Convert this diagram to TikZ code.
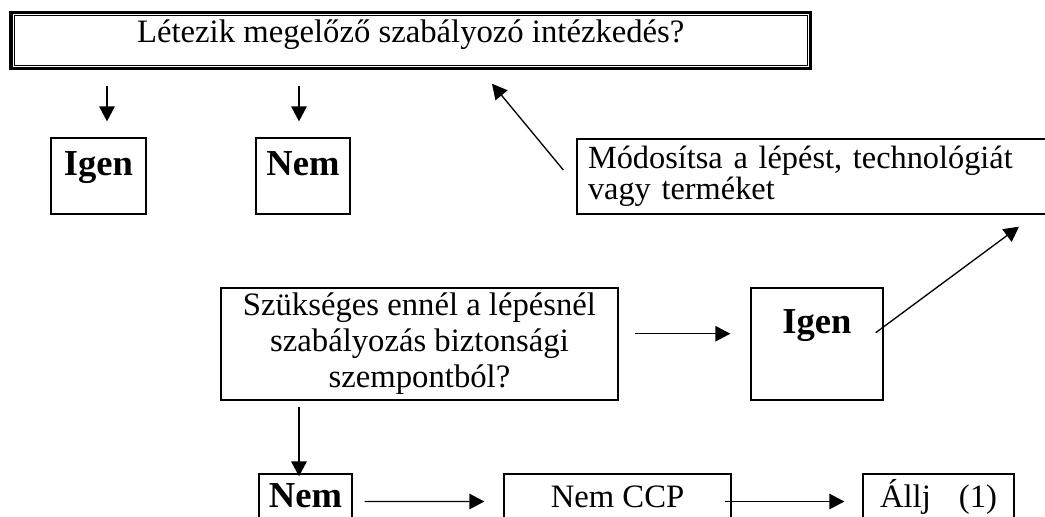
\documentclass[tikz,border=0pt]{standalone}
\usepackage{fontspec}
\setmainfont{Liberation Serif}
\usetikzlibrary{arrows.meta,positioning,calc}

\begin{document}
\begin{tikzpicture}[
  box/.style={draw, line width=0.75pt, inner sep=0pt, align=center},
  txt/.style={font=\fontsize{18.6pt}{20.5pt}\selectfont},
  bold/.style={font=\fontsize{20.8pt}{24pt}\selectfont\bfseries},
  arr/.style={-{Triangle[length=0.3cm,width=0.31cm]}, line width=0.75pt}
]
  \useasboundingbox (0,0) rectangle (20.9,10.32);

  \node[box, txt, line width=2pt, minimum width=15.99cm, minimum height=1.12cm, text height=0.7em, text depth=0.46em] (top) at (8.215,9.51) {Létezik megelőző szabályozó intézkedés?};
  \draw[line width=0.7pt] ([shift={(0.1,0.1)}]top.south west) rectangle ([shift={(-0.1,-0.1)}]top.north east);

  \node[box, bold, minimum width=1.9cm, minimum height=1.52cm, text height=0.7em, text depth=0.81em] (igenA) at (1.97,6.8) {Igen};
  \node[box, bold, minimum width=1.88cm, minimum height=1.52cm, text height=0.7em, text depth=0.81em] (nemA) at (6.06,6.8) {Nem};
  \node[box, font=\fontsize{18.4pt}{17.8pt}\selectfont, align=left, text width=9.22cm, minimum width=9.66cm, minimum height=1.5cm] (modosit) at (16.37,6.79) {Módosítsa a lépést, technológiát\\vagy terméket};

  \node[box, txt, minimum width=7.94cm, minimum height=2.24cm] (szuk) at (8.39,3.44) {Szükséges ennél a lépésnél\\szabályozás biztonsági\\szempontból?};
  \node[box, bold, minimum width=2.64cm, minimum height=2.24cm, text height=0.7em, text depth=1.87em] (igenB) at (16.34,3.44) {Igen};

  \node[box, bold, minimum width=1.86cm, minimum height=1.32cm, text height=0.7em, text depth=0.65em] (nemB) at (6.11,0.18) {Nem};
  \node[box, txt, minimum width=4.54cm, minimum height=1.32cm, text height=0.7em, text depth=0.64em] (nemccp) at (12.35,0.18) {Nem CCP};
  \node[box, txt, minimum width=3.02cm, minimum height=1.32cm, text height=0.7em, text depth=0.64em] (allj) at (18.77,0.18) {Állj\hspace{0.56cm}(1)};

  \draw[arr, shorten <=0.31cm, shorten >=0.32cm] ([xshift=0.17cm]igenA.north |- top.south) -- ([xshift=0.17cm]igenA.north);
  \draw[arr, shorten <=0.31cm, shorten >=0.32cm] ([xshift=-0.08cm]nemA.north |- top.south) -- ([xshift=-0.08cm]nemA.north);
  \draw[arr] ([shift={(-0.26,0.13)}]modosit.west) -- ([shift={(1.625,-0.27)}]top.south);
  \draw[arr, shorten <=0.32cm, shorten >=0.4cm] (szuk.east |- igenB.base) -- (igenB.base west);
  \draw[arr] ([shift={(-0.16,0.02)}]igenB.base east) -- ([shift={(4.01,-0.24)}]modosit.south);
  \draw[arr, shorten <=0.12cm, shorten >=-0.06cm] ([xshift=-0.13cm]nemB.north |- szuk.south) -- ([xshift=-0.13cm]nemB.north);
  \draw[arr, shorten <=0.24cm, shorten >=0.38cm] ([yshift=0.12cm]nemB.base east) -- ([yshift=0.12cm]nemccp.base west);
  \draw[arr, shorten <=-0.14cm, shorten >=0.36cm] ([yshift=0.12cm]nemccp.base east) -- ([yshift=0.12cm]allj.base west);
\end{tikzpicture}
\end{document}
